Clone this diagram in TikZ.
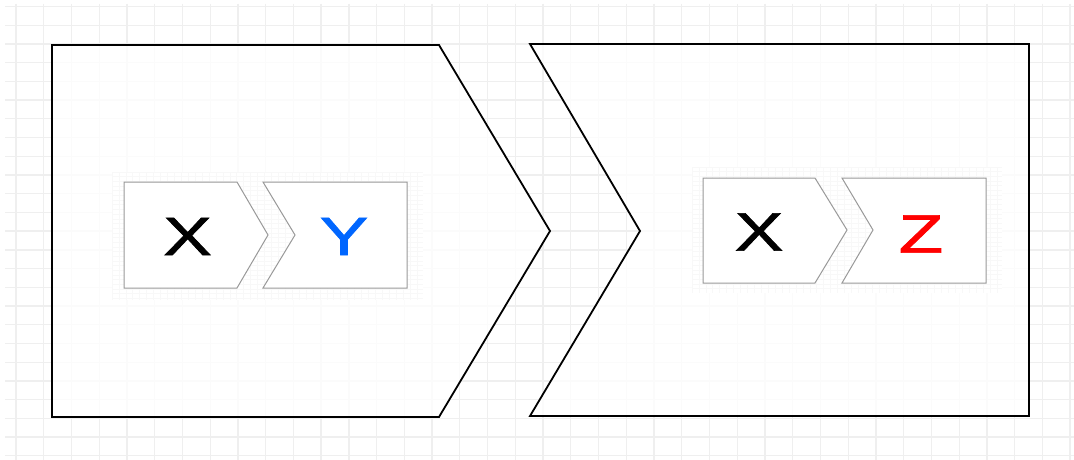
\documentclass[tikz,border=0pt]{standalone}
\usepackage{graphicx}
\usepackage{fontspec}
\setmainfont{Liberation Sans}
\newfontfamily\letterfont[FakeBold=1.2]{Liberation Sans}
\definecolor{gridgray}{HTML}{EFEFEF}
\definecolor{finegray}{HTML}{F8F8F8}
\definecolor{chevgray}{HTML}{999999}
\definecolor{letterblue}{HTML}{0066FF}
\definecolor{letterred}{HTML}{FF0000}
\newcommand{\wideletter}[1]{\scalebox{1.35}[1]{#1}}
\begin{document}
\begin{tikzpicture}[x=1pt,y=-1pt,
	gridline/.style={color=gridgray,line width=1.3pt},
	fineline/.style={color=finegray,line width=0.6pt},
	bigshape/.style={draw=black,line width=1.8pt,fill=white,fill opacity=0.8,line join=miter},
	chevron/.style={draw=chevgray,line width=1pt,fill=white,line join=miter},
	letter/.style={font=\letterfont\fontsize{54}{60}\selectfont,inner sep=0pt}]
				\useasboundingbox [fill=white] (0,0) rectangle (1074,460);
				% background grid
				\foreach \i in {0,...,38}
					\draw [gridline] ({16+27.74*\i},4) -- ({16+27.74*\i},460);
				\foreach \j in {0,...,24}
					\draw [gridline] (5,{6.5+18.72*\j}) -- (1074,{6.5+18.72*\j});
				% the two big shapes
				\draw [bigshape] (52,45)--(439,45)--(550,231)--(439,417)--(52,417)--cycle;
				\draw [bigshape] (530,44)--(1029,44)--(1029,416)--(530,416)--(640,231)--cycle;
				% faint boxes behind the small chevrons
				\fill [white] (112,172) rectangle (423,300);
				\fill [white] (692,167) rectangle (1002,293);
				\foreach \i in {0,...,44}
					\draw [fineline] ({112+6.93*\i},172) -- ({112+6.93*\i},300);
				\foreach \j in {0,...,27}
					\draw [fineline] (112,{172+4.68*\j}) -- (423,{172+4.68*\j});
				\foreach \i in {0,...,44}
					\draw [fineline] ({692+6.93*\i},167) -- ({692+6.93*\i},293);
				\foreach \j in {0,...,26}
					\draw [fineline] (692,{167+4.68*\j}) -- (1002,{167+4.68*\j});
				% left group
				\draw [chevron] (124,182)--(237,182)--(268,235)--(237,288)--(124,288)--cycle;
				\draw [chevron] (263,182)--(407,182)--(407,288)--(263,288)--(295,235)--cycle;
				\node [letter] (xleft) at (187.5,236.5) {\wideletter{X}};
				\node [letter,color=letterblue] (yleft) at (344,236.5) {\wideletter{Y}};
				% right group
				\draw [chevron] (703,178)--(815,178)--(847,230)--(815,283)--(703,283)--cycle;
				\draw [chevron] (842,178)--(986,178)--(986,283)--(842,283)--(873,230)--cycle;
				\node [letter] (xright) at (759,232) {\wideletter{X}};
				\node [letter,color=letterred] (zright) at (921,234) {\wideletter{Z}};
			\end{tikzpicture}
\end{document}
